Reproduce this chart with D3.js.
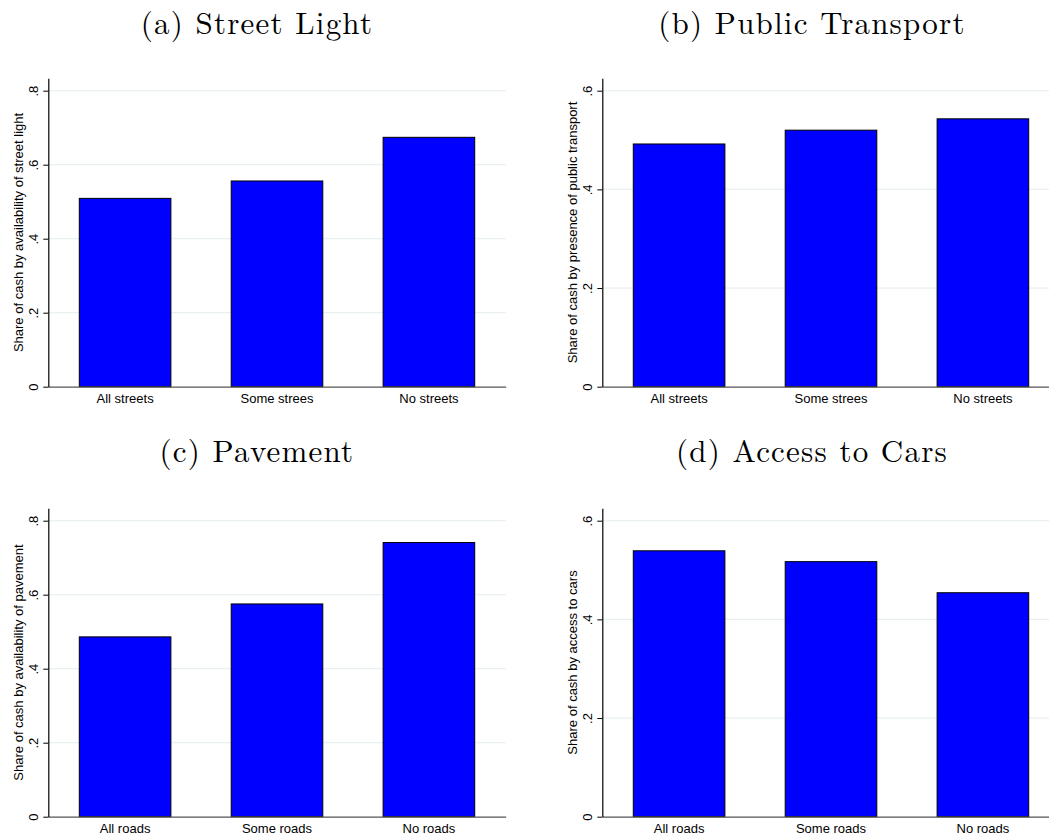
<!DOCTYPE html>
<html>
<head>
<meta charset="utf-8">
<script src="https://cdn.jsdelivr.net/npm/d3@7"></script>
<style>
  html, body { margin: 0; padding: 0; background: #fff; }
  svg { display: block; }
</style>
</head>
<body>
<svg id="chart" width="1049" height="837"></svg>
<script>
// ---- data ----
const streetCategories = ["All streets", "Some strees", "No streets"];
const roadCategories = ["All roads", "Some roads", "No roads"];

const streetLightValues = [0.509, 0.556, 0.674];
const publicTransportValues = [0.492, 0.520, 0.543];
const pavementValues = [0.486, 0.575, 0.741];
const carAccessValues = [0.539, 0.517, 0.454];

const ticksTo08 = [0, 0.2, 0.4, 0.6, 0.8];
const ticksTo06 = [0, 0.2, 0.4, 0.6];

const panelTitles = ["(a) Street Light", "(b) Public Transport", "(c) Pavement", "(d) Access to Cars"];
const yAxisTitles = [
  "Share of cash by availability of street light",
  "Share of cash by presence of public transport",
  "Share of cash by availability of pavement",
  "Share of cash by access to cars"
];

// ---- layout ----
const svg = d3.select("#chart");
const colAxisX = [48.3, 602.3];
const plotW = 457.4;
const rowTop = [78.3, 508.3];
const rowZero = [386.7, 816.7];
const titleCenterX = [257, 812];
const titleBaseline = [33.5, 461.5];

const panels = [
  { cats: streetCategories, vals: streetLightValues, ticks: ticksTo08, col: 0, row: 0 },
  { cats: streetCategories, vals: publicTransportValues, ticks: ticksTo06, col: 1, row: 0 },
  { cats: roadCategories, vals: pavementValues, ticks: ticksTo08, col: 0, row: 1 },
  { cats: roadCategories, vals: carAccessValues, ticks: ticksTo06, col: 1, row: 1 }
];

const fmt = v => v === 0 ? "0" : d3.format(".1f")(v).replace(/^0/, "");

panels.forEach((p, i) => {
  const x0 = colAxisX[p.col];
  const x1 = x0 + plotW;
  const top = rowTop[p.row];
  const zero = rowZero[p.row];
  const maxTick = d3.max(p.ticks);
  const tickPx = (zero - top) * 296 / 308.4;
  const yTopValue = maxTick * (zero - top) / tickPx;

  const x = d3.scaleBand().domain(p.cats).range([x0, x1])
    .paddingInner(0.397).paddingOuter(0.204);
  const y = d3.scaleLinear().domain([0, yTopValue]).range([zero, top]);

  const g = svg.append("g");

  // title
  g.append("text")
    .attr("x", titleCenterX[p.col])
    .attr("y", titleBaseline[p.row])
    .attr("text-anchor", "middle")
    .attr("font-family", "'Latin Modern Roman','CMU Serif','Liberation Serif',serif")
    .attr("font-size", 31)
    .attr("letter-spacing", 1.2)
    .attr("fill", "#000")
    .text(panelTitles[i]);

  // gridlines
  g.append("g").selectAll("line")
    .data(p.ticks.filter(t => t > 0))
    .join("line")
    .attr("x1", x0).attr("x2", x1)
    .attr("y1", d => y(d)).attr("y2", d => y(d))
    .attr("stroke", "#e9f0f0")
    .attr("stroke-width", 1.2);

  // bars
  g.append("g").selectAll("rect")
    .data(p.vals)
    .join("rect")
    .attr("x", (d, j) => x(p.cats[j]))
    .attr("width", x.bandwidth())
    .attr("y", d => y(d))
    .attr("height", d => y(0) - y(d))
    .attr("fill", "#0000ff")
    .attr("stroke", "#000")
    .attr("stroke-width", 1);

  // x axis
  const xa = g.append("g")
    .attr("transform", `translate(0,${zero})`)
    .call(d3.axisBottom(x).tickSize(0).tickSizeOuter(0).tickPadding(0));
  xa.select(".domain").attr("stroke", "#555").attr("stroke-width", 1.2);
  xa.selectAll("text")
    .attr("y", 16.3).attr("dy", 0)
    .attr("font-family", "'Liberation Sans', Arial, sans-serif")
    .attr("font-size", 13)
    .attr("fill", "#000");

  // y axis
  const ya = g.append("g")
    .attr("transform", `translate(${x0},0)`)
    .call(d3.axisLeft(y).tickValues(p.ticks).tickFormat(fmt).tickSize(5).tickSizeOuter(0));
  ya.select(".domain").attr("stroke", "#000").attr("stroke-width", 1.2);
  ya.selectAll(".tick line").attr("stroke", "#000").attr("stroke-width", 1);
  ya.selectAll(".tick text")
    .attr("x", 0).attr("y", 0).attr("dy", 0)
    .attr("text-anchor", "middle")
    .attr("transform", "translate(-10.8,0) rotate(-90)")
    .attr("font-family", "'Liberation Sans', Arial, sans-serif")
    .attr("font-size", 13)
    .attr("fill", "#000");

  // y axis title
  g.append("text")
    .attr("transform", `translate(${x0 - 25.6},${(top + zero) / 2}) rotate(-90)`)
    .attr("text-anchor", "middle")
    .attr("font-family", "'Liberation Sans', Arial, sans-serif")
    .attr("font-size", 13)
    .attr("fill", "#000")
    .text(yAxisTitles[i]);
});
</script>
</body>
</html>
